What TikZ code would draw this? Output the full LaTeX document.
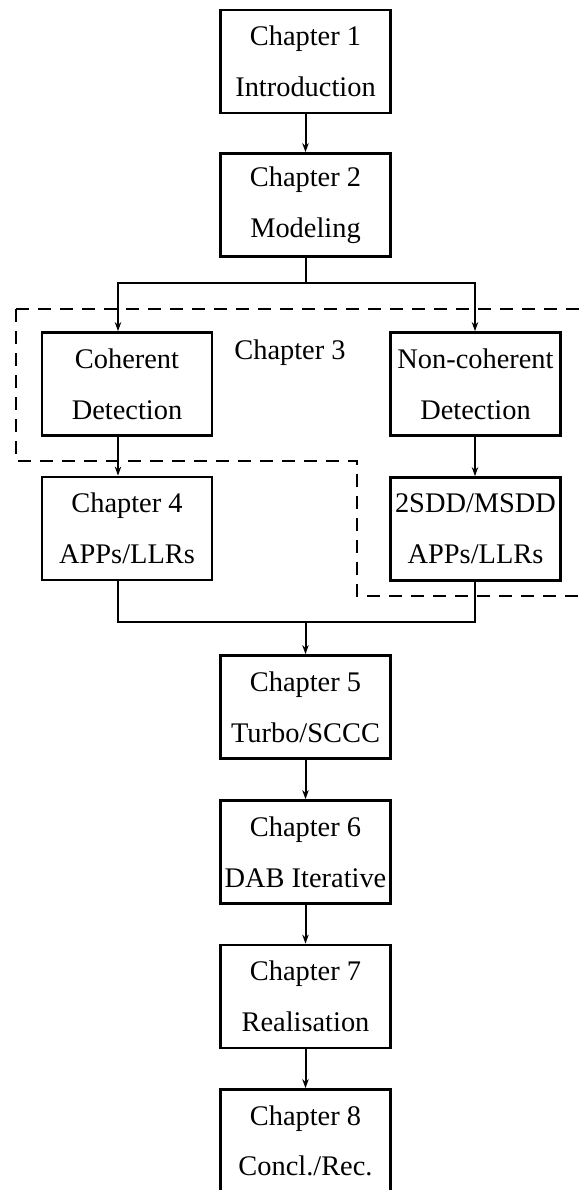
\documentclass[tikz,border=0pt]{standalone}
\usepackage{fontspec}
\setmainfont{Liberation Serif}
\usetikzlibrary{arrows.meta}

\tikzset{
  chapbox/.style={draw, line width=1.35pt, minimum width=85pt, minimum height=51.5pt,
    inner sep=0pt, align=center, font=\fontsize{14.2}{25.3}\selectfont},
  link/.style={line width=1pt},
  grouping/.style={line width=1pt, dash pattern=on 6.5pt off 4.5pt},
}

\begin{document}
\begin{tikzpicture}[x=0.5pt,y=-0.5pt,>={Stealth[length=4.5pt,width=3.2pt]}]
  \useasboundingbox (0,0) rectangle (586,1190);
  % ------- upper column -------
  \node[chapbox] (ch1) at (305.5,61.5) {Chapter 1\\Introduction};
  \node[chapbox] (ch2) at (305.5,205) {Chapter 2\\Modeling};
  % ------- chapter 3 / 4 branches -------
  \node[chapbox] (coh) at (127,384) {Coherent\\Detection};
  \node[chapbox] (noncoh) at (475.5,384) {Non-coherent\\Detection};
  \node[chapbox] (ch4) at (127,528.5) {Chapter 4\\APPs/LLRs};
  \node[chapbox] (msdd) at (475.5,529) {2SDD/MSDD\\APPs/LLRs};
  \node[anchor=base, font=\fontsize{14.2}{17}\selectfont] (ch3lbl) at (290,359) {Chapter 3};
  % dashed outline of chapter 3
  \draw[grouping] (16,309) -- (600,309);
  \draw[grouping] (16,309) -- (16,461) -- (357,461) -- (357,596) -- (600,596);
  % ------- lower column -------
  \node[chapbox] (ch5) at (305.5,707) {Chapter 5\\Turbo/SCCC};
  \node[chapbox] (ch6) at (305.5,852) {Chapter 6\\DAB Iterative};
  \node[chapbox] (ch7) at (305.5,996.5) {Chapter 7\\Realisation};
  \node[chapbox] (ch8) at (305.5,1141) {Chapter 8\\Concl./Rec.};
  % ------- connectors -------
  \coordinate (lsplit) at (118,283);
  \coordinate (rsplit) at (475,283);
  \coordinate (lmerge) at (118,622);
  \coordinate (rmerge) at (475,622);
  \draw[link] (ch2.south) -- (ch2.south |- lsplit);
  \draw[link,<->] (lsplit |- coh.north) -- (lsplit) -- (rsplit) -- (rsplit |- noncoh.north);
  \draw[link,->] (lsplit |- coh.south) -- (lsplit |- ch4.north);
  \draw[link,->] (rsplit |- noncoh.south) -- (rsplit |- msdd.north);
  \draw[link] (lmerge |- ch4.south) -- (lmerge) -- (rmerge) -- (rmerge |- msdd.south);
  \draw[link,->] (ch5.north |- lmerge) -- (ch5.north);
  \foreach \a/\b in {ch1/ch2, ch5/ch6, ch6/ch7, ch7/ch8}
    \draw[link,->] (\a.south) -- (\b.north);
\end{tikzpicture}
\end{document}
